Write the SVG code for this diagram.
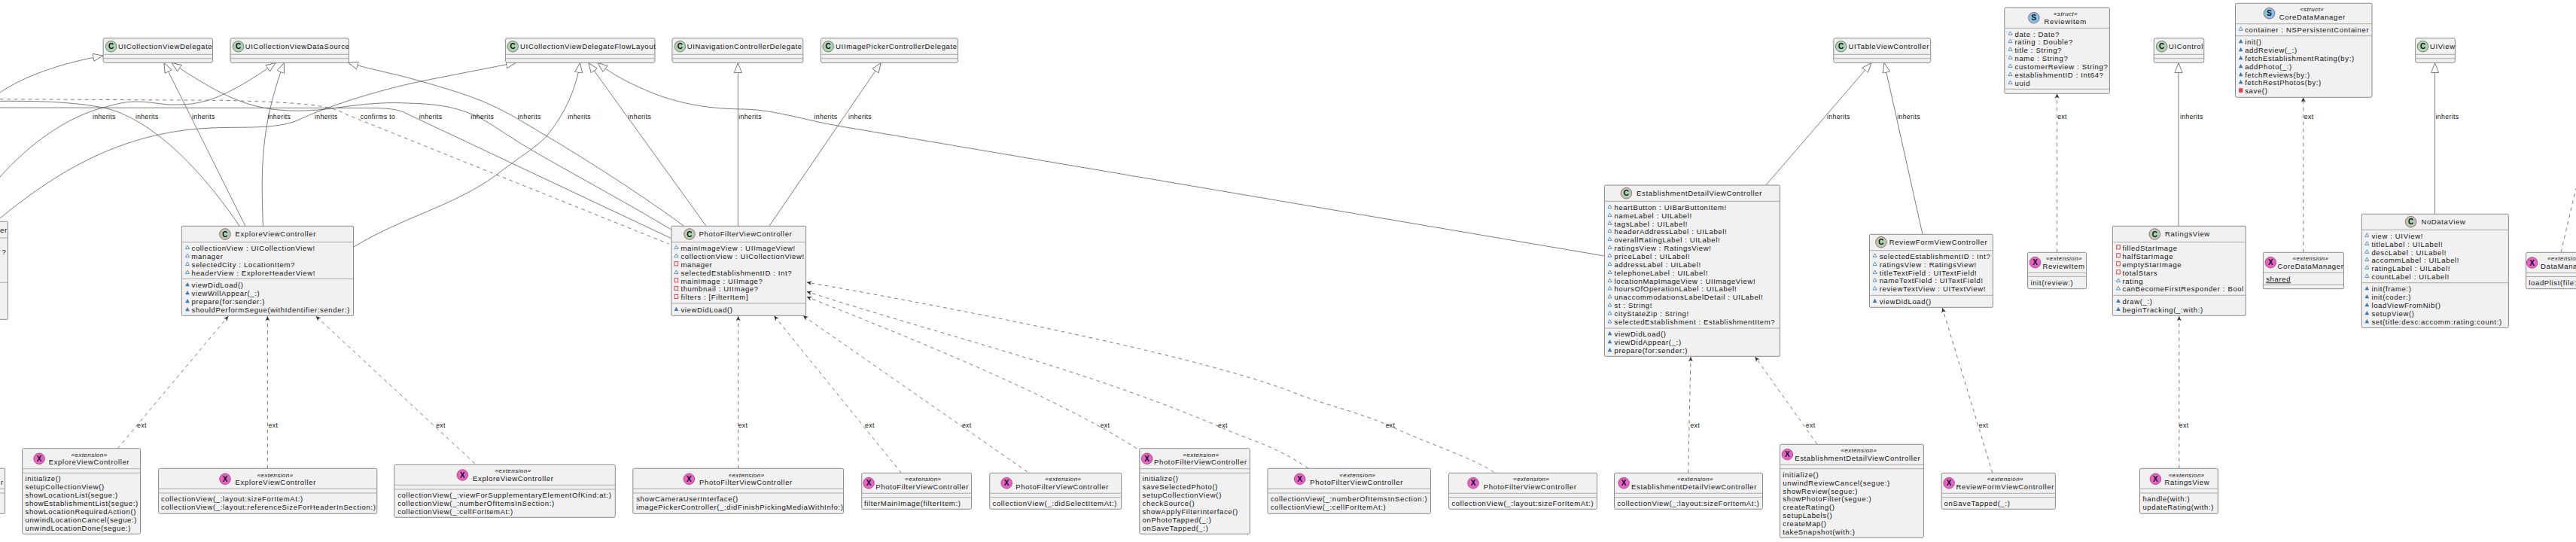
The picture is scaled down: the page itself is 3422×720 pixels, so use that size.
<svg xmlns="http://www.w3.org/2000/svg" width="3422" height="720" viewBox="0 0 3422 720">
<style>
text{font-family:"Liberation Sans",Arial,sans-serif;fill:#111}
.m{font-size:9.5px;letter-spacing:.65px}
.n{font-size:9.5px;letter-spacing:.65px}
.st{font-size:8px;font-style:italic;letter-spacing:.45px;text-anchor:middle}
.lb{font-size:8.7px;letter-spacing:.35px}
.il{font-size:10px;font-weight:bold;text-anchor:middle}
.b{fill:#F1F1F1;stroke:#8a8a8a;stroke-width:1}
.d{stroke:#ababab;stroke-width:1;fill:none}
.ic{stroke-width:.8}
.cs{fill:#ADD1B2;stroke:#5a6a5c}
.cc{fill:#ADD1B2;stroke:#B4385A}
.cx{fill:#E263C9;stroke:#B4385A}
.cu{fill:#7CC8EC;stroke:#B4385A}
.e{fill:none;stroke:#5c5c5c;stroke-width:.8}
.h{marker-end:url(#tri)}
.x{stroke-dasharray:4.7 4.7;marker-end:url(#vee)}
.u{text-decoration:underline}
</style>
<defs>
<marker id="tri" markerUnits="userSpaceOnUse" markerWidth="16" markerHeight="14" refX="13.5" refY="6" orient="auto"><path d="M13.3,6 L.3,1 L.3,11 Z" fill="#fff" stroke="#5c5c5c" stroke-width=".8"/></marker>
<marker id="vee" markerUnits="userSpaceOnUse" markerWidth="9" markerHeight="9" refX="7" refY="4" orient="auto"><path d="M7,4 L.5,1 L2.4,4 L.5,7 Z" fill="#333"/></marker>
<path id="po" d="M0,-2.3 L2.6,2.3 L-2.6,2.3 Z" fill="#F1F1F1" stroke="#4D8AC4" stroke-width=".9"/>
<path id="pf" d="M0,-2.6 L2.9,2.6 L-2.9,2.6 Z" fill="#3F78B5"/>
<rect id="ro" x="-2.3" y="-2.6" width="4.6" height="5.2" fill="#F1F1F1" stroke="#D8353F" stroke-width=".9"/>
<rect id="rf" x="-2.6" y="-2.8" width="5.2" height="5.6" fill="#E2404E"/>
</defs>

<g id="connectors">
<path class="e h" d="M0,123 C30,102 80,84 137,74"/>
<path class="e" d="M0,134.3 C60,134 100,136 137,143 C185,153 250,200 318,300"/>
<path class="e h" d="M0,235 C40,190 90,155 137,143 C155,138 165,135 181,135 C205,135 215,140 236,139 C270,139 300,130 366.4,83.3"/>
<path class="e h" d="M0,290 C85,220 170,175 280,170 C325,168 365,172 395,160 C420,148 480,125 559,108 C600,100 650,90 685.6,83.3"/>
<path class="e h" d="M908.3,300 C840,250 760,200 685.6,156.7 C640,130 600,120 559.5,108 C525,98 495,93 462.4,83.3"/>
<path class="e h" d="M891.8,305 C830,268 750,225 707.6,200 C670,178 650,162 630.8,153.3 C600,140 575,138 540,137 C505,135 470,140 433.3,145 C405,148 380,148 356.5,144.3 C320,138 290,125 227.6,83.3"/>
<path class="e" d="M0,143 L500,143.5 C515,144 525,145 535,148.5 L891.8,316.7"/>
<path class="e" stroke-dasharray="4.7 4.7" d="M0,131.7 L296,133.3 C395,136 440,139 460,152 L888.5,324"/>
<path class="e h" d="M469.5,328.3 C535,288 600,275 658.2,233.3 C690,208 715,195 729.5,176.7 C750,150 765,120 770.6,83.3"/>
<path class="e h" d="M325.8,300 L217.8,83.3"/>
<path class="e h" d="M349.4,300 C347,230 345,170 377.4,83.3"/>
<path class="e h" d="M937.9,300 L781.6,83.3"/>
<path class="e h" d="M2131.4,340 L1117.8,168 C1070,160 1030,146 990,145 C950,145 905,140 860,120.7 C835,110 815,100 793.7,83.3"/>
<path class="e h" d="M980.3,300.3 L980.3,83.3"/>
<path class="e h" d="M1021.8,300.3 L1170.4,83.3"/>
<path class="e h" d="M2345.8,246 L2486.2,83.3"/>
<path class="e h" d="M2554,311.3 L2503,83.3"/>
<path class="e h" d="M2894,300.3 L2894,83.3"/>
<path class="e h" d="M3234.6,284.3 L3234.6,83.3"/>
<path class="e x" d="M156.3,595.7 L303.3,420"/>
<path class="e x" d="M355.4,622.3 L355.4,420"/>
<path class="e x" d="M630.8,615.7 L419.6,420"/>
<path class="e x" d="M980.7,622.3 L980.7,420"/>
<path class="e x" d="M1197.3,628.3 L1028.4,419.5"/>
<path class="e x" d="M1364.6,626.7 L1066.8,419.5"/>
<path class="e x" d="M1510,595.7 C1400,525 1200,445 1071.7,394.3"/>
<path class="e x" d="M1738.1,622.3 C1690,590 1660,585 1619.6,566.7 C1440,490 1250,445 1071.7,387.3"/>
<path class="e x" d="M1984.4,627.3 C1960,610 1900,590 1857,570.7 C1810,548 1765,540 1720,522 C1600,475 1300,415 1071.7,375"/>
<path class="e x" d="M2242.7,628.3 C2244,560 2245,520 2246,474"/>
<path class="e x" d="M2413.8,590 L2331.5,474"/>
<path class="e x" d="M2646.9,628.3 L2580.3,409"/>
<path class="e x" d="M2894.8,622.3 L2894.8,420"/>
<path class="e x" d="M2732.6,335.3 L2732.6,124.3"/>
<path class="e x" d="M3059.7,335.3 L3059.7,129.3"/>
<path class="e" stroke-dasharray="4.7 4.7" d="M3402.1,335 L3422,250"/>
<text class="lb" x="122.9" y="158">inherits</text>
<text class="lb" x="179.9" y="158">inherits</text>
<text class="lb" x="255" y="158">inherits</text>
<text class="lb" x="355.4" y="158">inherits</text>
<text class="lb" x="418" y="158">inherits</text>
<text class="lb" x="478.8" y="158">confirms to</text>
<text class="lb" x="556.7" y="158">inherits</text>
<text class="lb" x="625.3" y="158">inherits</text>
<text class="lb" x="687.8" y="158">inherits</text>
<text class="lb" x="754.2" y="158">inherits</text>
<text class="lb" x="834.3" y="158">inherits</text>
<text class="lb" x="981.2" y="158">inherits</text>
<text class="lb" x="1081.6" y="158">inherits</text>
<text class="lb" x="1127.1" y="158">inherits</text>
<text class="lb" x="2427" y="158">inherits</text>
<text class="lb" x="2520.2" y="158">inherits</text>
<text class="lb" x="2895.9" y="158">inherits</text>
<text class="lb" x="3235.6" y="158">inherits</text>
<text class="lb" x="2733.2" y="158">ext</text>
<text class="lb" x="3060.8" y="158">ext</text>
<text class="lb" x="182" y="568">ext</text>
<text class="lb" x="356.5" y="568">ext</text>
<text class="lb" x="579.2" y="568">ext</text>
<text class="lb" x="980.7" y="568">ext</text>
<text class="lb" x="1149" y="568">ext</text>
<text class="lb" x="1277.9" y="568">ext</text>
<text class="lb" x="1461.7" y="568">ext</text>
<text class="lb" x="1618" y="568">ext</text>
<text class="lb" x="1840.7" y="568">ext</text>
<text class="lb" x="2245.4" y="568">ext</text>
<text class="lb" x="2398.8" y="568">ext</text>
<text class="lb" x="2628.7" y="568">ext</text>
<text class="lb" x="2894.8" y="568">ext</text>
</g>

<g id="UICollectionViewDelegate"><rect class="b" x="137.1" y="50.7" width="145.4" height="32.6" rx="2.5"/><line class="d" x1="137.1" x2="282.5" y1="72.3" y2="72.3"/><line class="d" x1="137.1" x2="282.5" y1="77.7" y2="77.7"/><circle class="ic cs" cx="147.5" cy="61.7" r="7.3"/><text class="il" x="147.5" y="65.2">C</text><text class="n" x="156.9" y="65">UICollectionViewDelegate</text></g>
<g id="UICollectionViewDataSource"><rect class="b" x="306" y="50.7" width="157.5" height="32.6" rx="2.5"/><line class="d" x1="306" x2="463.5" y1="72.3" y2="72.3"/><line class="d" x1="306" x2="463.5" y1="77.7" y2="77.7"/><circle class="ic cs" cx="316.5" cy="61.7" r="7.3"/><text class="il" x="316.5" y="65.2">C</text><text class="n" x="325.8" y="65">UICollectionViewDataSource</text></g>
<g id="UICollectionViewDelegateFlowLayout"><rect class="b" x="671.4" y="50.7" width="198.5" height="32.6" rx="2.5"/><line class="d" x1="671.4" x2="869.9" y1="72.3" y2="72.3"/><line class="d" x1="671.4" x2="869.9" y1="77.7" y2="77.7"/><circle class="ic cs" cx="681.2" cy="61.7" r="7.3"/><text class="il" x="681.2" y="65.2">C</text><text class="n" x="691.1" y="65">UICollectionViewDelegateFlowLayout</text></g>
<g id="UINavigationControllerDelegate"><rect class="b" x="892.9" y="50.7" width="173.9" height="32.6" rx="2.5"/><line class="d" x1="892.9" x2="1066.8" y1="72.3" y2="72.3"/><line class="d" x1="892.9" x2="1066.8" y1="77.7" y2="77.7"/><circle class="ic cs" cx="903.3" cy="61.7" r="7.3"/><text class="il" x="903.3" y="65.2">C</text><text class="n" x="912.7" y="65">UINavigationControllerDelegate</text></g>
<g id="UIImagePickerControllerDelegate"><rect class="b" x="1090.4" y="50.7" width="182.1" height="32.6" rx="2.5"/><line class="d" x1="1090.4" x2="1272.5" y1="72.3" y2="72.3"/><line class="d" x1="1090.4" x2="1272.5" y1="77.7" y2="77.7"/><circle class="ic cs" cx="1100.2" cy="61.7" r="7.3"/><text class="il" x="1100.2" y="65.2">C</text><text class="n" x="1110.1" y="65">UIImagePickerControllerDelegate</text></g>
<g id="UITableViewController"><rect class="b" x="2435.8" y="50.7" width="128.9" height="32.6" rx="2.5"/><line class="d" x1="2435.8" x2="2564.7" y1="72.3" y2="72.3"/><line class="d" x1="2435.8" x2="2564.7" y1="77.7" y2="77.7"/><circle class="ic cs" cx="2445.6" cy="61.7" r="7.3"/><text class="il" x="2445.6" y="65.2">C</text><text class="n" x="2455.5" y="65">UITableViewController</text></g>
<g id="UIControl"><rect class="b" x="2861.2" y="50.7" width="66.6" height="32.6" rx="2.5"/><line class="d" x1="2861.2" x2="2927.8" y1="72.3" y2="72.3"/><line class="d" x1="2861.2" x2="2927.8" y1="77.7" y2="77.7"/><circle class="ic cs" cx="2871.7" cy="61.7" r="7.3"/><text class="il" x="2871.7" y="65.2">C</text><text class="n" x="2881" y="65">UIControl</text></g>
<g id="UIView"><rect class="b" x="3208.7" y="50.7" width="52.7" height="32.6" rx="2.5"/><line class="d" x1="3208.7" x2="3261.4" y1="72.3" y2="72.3"/><line class="d" x1="3208.7" x2="3261.4" y1="77.7" y2="77.7"/><circle class="ic cs" cx="3218.5" cy="61.7" r="7.3"/><text class="il" x="3218.5" y="65.2">C</text><text class="n" x="3227.9" y="65">UIView</text></g>

<g id="PartialClassLeft"><rect class="b" x="-10" y="294.3" width="20.5" height="130" rx="1.5"/><line class="d" x1="0" x2="10.5" y1="316" y2="316"/><line class="d" x1="0" x2="10.5" y1="375.3" y2="375.3"/><text class="n" x="0" y="309.3">er</text><text class="m" x="2.5" y="337.6">?</text></g>
<g id="PartialExtensionLeft"><rect class="b" x="-10" y="622.3" width="16.6" height="60" rx="1.5"/><line class="d" x1="0" x2="6.6" y1="649.3" y2="649.3"/><line class="d" x1="0" x2="6.6" y1="655" y2="655"/><text class="n" x="1" y="644">r</text></g>

<g id="ExploreViewController"><rect class="b" x="241.3" y="300.3" width="228.2" height="119" rx="1.5"/><line class="d" x1="241.3" x2="469.5" y1="321.7" y2="321.7"/><line class="d" x1="241.3" x2="469.5" y1="370.3" y2="370.3"/><circle class="ic cc" cx="298.9" cy="311" r="7.3"/><text class="il" x="298.9" y="314.5">C</text><text class="n" x="312.6" y="314.3">ExploreViewController</text>
<use href="#po" x="249" y="328.3"/><text class="m" x="254.5" y="333.3">collectionView : UICollectionView!</text>
<use href="#po" x="249" y="339.3"/><text class="m" x="254.5" y="344.3">manager</text>
<use href="#po" x="249" y="350.3"/><text class="m" x="254.5" y="355.3">selectedCity : LocationItem?</text>
<use href="#po" x="249" y="361.3"/><text class="m" x="254.5" y="366.3">headerView : ExploreHeaderView!</text>
<use href="#pf" x="249" y="377.7"/><text class="m" x="254.5" y="382.3">viewDidLoad()</text>
<use href="#pf" x="249" y="388.7"/><text class="m" x="254.5" y="393.3">viewWillAppear(_:)</text>
<use href="#pf" x="249" y="399.7"/><text class="m" x="254.5" y="404.3">prepare(for:sender:)</text>
<use href="#pf" x="249" y="410.7"/><text class="m" x="254.5" y="415.3">shouldPerformSegue(withIdentifier:sender:)</text></g>

<g id="PhotoFilterViewController"><rect class="b" x="891.8" y="300.3" width="178.8" height="119" rx="1.5"/><line class="d" x1="891.8" x2="1070.6" y1="321.7" y2="321.7"/><line class="d" x1="891.8" x2="1070.6" y1="403" y2="403"/><circle class="ic cc" cx="915.9" cy="311" r="7.3"/><text class="il" x="915.9" y="314.5">C</text><text class="n" x="928.6" y="314.3">PhotoFilterViewController</text>
<use href="#po" x="898.4" y="328.3"/><text class="m" x="904.4" y="333.3">mainImageView : UIImageView!</text>
<use href="#po" x="898.4" y="339.3"/><text class="m" x="904.4" y="344">collectionView : UICollectionView!</text>
<use href="#ro" x="898.4" y="350.3"/><text class="m" x="904.4" y="355.3">manager</text>
<use href="#po" x="898.4" y="361.3"/><text class="m" x="904.4" y="366.3">selectedEstablishmentID : Int?</text>
<use href="#ro" x="898.4" y="372.3"/><text class="m" x="904.4" y="377.3">mainImage : UIImage?</text>
<use href="#ro" x="898.4" y="383"/><text class="m" x="904.4" y="387.3">thumbnail : UIImage?</text>
<use href="#ro" x="898.4" y="394"/><text class="m" x="904.4" y="398.3">filters : [FilterItem]</text>
<use href="#pf" x="898.4" y="410.3"/><text class="m" x="904.4" y="415">viewDidLoad()</text></g>

<g id="EstablishmentDetailViewController"><rect class="b" x="2131.4" y="246" width="233.1" height="227.3" rx="1.5"/><line class="d" x1="2131.4" x2="2364.5" y1="267.3" y2="267.3"/><line class="d" x1="2131.4" x2="2364.5" y1="436" y2="436"/><circle class="ic cc" cx="2160.4" cy="256.7" r="7.3"/><text class="il" x="2160.4" y="260.2">C</text><text class="n" x="2174.1" y="260">EstablishmentDetailViewController</text>
<use href="#po" x="2138.5" y="274.3"/><text class="m" x="2144.5" y="279.3">heartButton : UIBarButtonItem!</text>
<use href="#po" x="2138.5" y="285.3"/><text class="m" x="2144.5" y="290.3">nameLabel : UILabel!</text>
<use href="#po" x="2138.5" y="296"/><text class="m" x="2144.5" y="301">tagsLabel : UILabel!</text>
<use href="#po" x="2138.5" y="306.3"/><text class="m" x="2144.5" y="311.3">headerAddressLabel : UILabel!</text>
<use href="#po" x="2138.5" y="317.3"/><text class="m" x="2144.5" y="322.3">overallRatingLabel : UILabel!</text>
<use href="#po" x="2138.5" y="328.3"/><text class="m" x="2144.5" y="333.3">ratingsView : RatingsView!</text>
<use href="#po" x="2138.5" y="339"/><text class="m" x="2144.5" y="344">priceLabel : UILabel!</text>
<use href="#po" x="2138.5" y="350.3"/><text class="m" x="2144.5" y="355.3">addressLabel : UILabel!</text>
<use href="#po" x="2138.5" y="361.3"/><text class="m" x="2144.5" y="366.3">telephoneLabel : UILabel!</text>
<use href="#po" x="2138.5" y="372.3"/><text class="m" x="2144.5" y="377.3">locationMapImageView : UIImageView!</text>
<use href="#po" x="2138.5" y="382.7"/><text class="m" x="2144.5" y="387.3">hoursOfOperationLabel : UILabel!</text>
<use href="#po" x="2138.5" y="393.7"/><text class="m" x="2144.5" y="398.3">unaccommodationsLabelDetail : UILabel!</text>
<use href="#po" x="2138.5" y="404.7"/><text class="m" x="2144.5" y="409.3">st : String!</text>
<use href="#po" x="2138.5" y="415.7"/><text class="m" x="2144.5" y="420.3">cityStateZip : String!</text>
<use href="#po" x="2138.5" y="426.7"/><text class="m" x="2144.5" y="431.3">selectedEstablishment : EstablishmentItem?</text>
<use href="#pf" x="2138.5" y="442.7"/><text class="m" x="2144.5" y="447.3">viewDidLoad()</text>
<use href="#pf" x="2138.5" y="453.7"/><text class="m" x="2144.5" y="458.3">viewDidAppear(_:)</text>
<use href="#pf" x="2138.5" y="464.7"/><text class="m" x="2144.5" y="469.3">prepare(for:sender:)</text></g>

<g id="ReviewFormViewController"><rect class="b" x="2483.5" y="311.3" width="163.9" height="97" rx="1.5"/><line class="d" x1="2483.5" x2="2647.4" y1="332.7" y2="332.7"/><line class="d" x1="2483.5" x2="2647.4" y1="392.3" y2="392.3"/><circle class="ic cc" cx="2498.9" cy="321.7" r="7.3"/><text class="il" x="2498.9" y="325.2">C</text><text class="n" x="2509.8" y="325">ReviewFormViewController</text>
<use href="#po" x="2490.6" y="339"/><text class="m" x="2496.7" y="344">selectedEstablishmentID : Int?</text>
<use href="#po" x="2490.6" y="350.3"/><text class="m" x="2496.7" y="355.3">ratingsView : RatingsView!</text>
<use href="#po" x="2490.6" y="361.3"/><text class="m" x="2496.7" y="366.3">titleTextField : UITextField!</text>
<use href="#po" x="2490.6" y="371.7"/><text class="m" x="2496.7" y="376.3">nameTextField : UITextField!</text>
<use href="#po" x="2490.6" y="382.7"/><text class="m" x="2496.7" y="387.3">reviewTextView : UITextView!</text>
<use href="#pf" x="2490.6" y="399.3"/><text class="m" x="2496.7" y="404">viewDidLoad()</text></g>

<g id="ReviewItem"><rect class="b" x="2662.8" y="10" width="139.6" height="114.3" rx="2"/><line class="d" x1="2662.8" x2="2802.4" y1="37.3" y2="37.3"/><line class="d" x1="2662.8" x2="2802.4" y1="118.3" y2="118.3"/><circle class="ic cu" cx="2701.8" cy="23.7" r="7.3"/><text class="il" x="2701.8" y="27.2">S</text><text class="st" x="2744.1" y="21">«struct»</text><text class="n" x="2715.6" y="32.3">ReviewItem</text>
<use href="#po" x="2670.5" y="44"/><text class="m" x="2676.5" y="49">date : Date?</text>
<use href="#po" x="2670.5" y="54.3"/><text class="m" x="2676.5" y="59.3">rating : Double?</text>
<use href="#po" x="2670.5" y="65"/><text class="m" x="2676.5" y="70">title : String?</text>
<use href="#po" x="2670.5" y="76"/><text class="m" x="2676.5" y="81">name : String?</text>
<use href="#po" x="2670.5" y="87.3"/><text class="m" x="2676.5" y="92.3">customerReview : String?</text>
<use href="#po" x="2670.5" y="98.3"/><text class="m" x="2676.5" y="103.3">establishmentID : Int64?</text>
<use href="#po" x="2670.5" y="109.3"/><text class="m" x="2676.5" y="114.3">uuid</text></g>

<g id="CoreDataManager"><rect class="b" x="2969.5" y="4.3" width="181.5" height="125" rx="2"/><line class="d" x1="2969.5" x2="3151" y1="31.7" y2="31.7"/><line class="d" x1="2969.5" x2="3151" y1="47.7" y2="47.7"/><circle class="ic cu" cx="3014.6" cy="17.7" r="7.3"/><text class="il" x="3014.6" y="21.2">S</text><text class="st" x="3071.2" y="15">«struct»</text><text class="n" x="3027.8" y="26">CoreDataManager</text>
<use href="#po" x="2976.7" y="38"/><text class="m" x="2982.2" y="43">container : NSPersistentContainer</text>
<use href="#pf" x="2976.7" y="54.7"/><text class="m" x="2982.2" y="59.3">init()</text>
<use href="#pf" x="2976.7" y="65.7"/><text class="m" x="2982.2" y="70.3">addReview(_:)</text>
<use href="#pf" x="2976.7" y="76.7"/><text class="m" x="2982.2" y="81.3">fetchEstablishmentRating(by:)</text>
<use href="#pf" x="2976.7" y="87.7"/><text class="m" x="2982.2" y="92.3">addPhoto(_:)</text>
<use href="#pf" x="2976.7" y="98.7"/><text class="m" x="2982.2" y="103.3">fetchReviews(by:)</text>
<use href="#pf" x="2976.7" y="108.7"/><text class="m" x="2982.2" y="113.3">fetchRestPhotos(by:)</text>
<use href="#rf" x="2976.7" y="120"/><text class="m" x="2982.2" y="124.3">save()</text></g>

<g id="RatingsView"><rect class="b" x="2806.3" y="300.3" width="177" height="119" rx="1.5"/><line class="d" x1="2806.3" x2="2983.3" y1="321.7" y2="321.7"/><line class="d" x1="2806.3" x2="2983.3" y1="392.3" y2="392.3"/><circle class="ic cc" cx="2862.3" cy="311" r="7.3"/><text class="il" x="2862.3" y="314.5">C</text><text class="n" x="2876.1" y="314.3">RatingsView</text>
<use href="#ro" x="2814" y="328.3"/><text class="m" x="2819.5" y="333.3">filledStarImage</text>
<use href="#ro" x="2814" y="339.3"/><text class="m" x="2819.5" y="344.3">halfStarImage</text>
<use href="#ro" x="2814" y="350.3"/><text class="m" x="2819.5" y="355.3">emptyStarImage</text>
<use href="#ro" x="2814" y="361.3"/><text class="m" x="2819.5" y="366.3">totalStars</text>
<use href="#po" x="2814" y="372.3"/><text class="m" x="2819.5" y="377.3">rating</text>
<use href="#po" x="2814" y="382.7"/><text class="m" x="2819.5" y="387.3">canBecomeFirstResponder : Bool</text>
<use href="#pf" x="2814" y="399.3"/><text class="m" x="2819.5" y="404">draw(_:)</text>
<use href="#pf" x="2814" y="410.3"/><text class="m" x="2819.5" y="415">beginTracking(_:with:)</text></g>

<g id="NoDataView"><rect class="b" x="3137.2" y="284.3" width="195.1" height="151" rx="1.5"/><line class="d" x1="3137.2" x2="3332.3" y1="305.3" y2="305.3"/><line class="d" x1="3137.2" x2="3332.3" y1="375.7" y2="375.7"/><circle class="ic cc" cx="3202.6" cy="294.7" r="7.3"/><text class="il" x="3202.6" y="298.2">C</text><text class="n" x="3216.4" y="298">NoDataView</text>
<use href="#po" x="3144.3" y="312"/><text class="m" x="3150.4" y="317">view : UIView!</text>
<use href="#po" x="3144.3" y="323"/><text class="m" x="3150.4" y="328">titleLabel : UILabel!</text>
<use href="#po" x="3144.3" y="334"/><text class="m" x="3150.4" y="339">descLabel : UILabel!</text>
<use href="#po" x="3144.3" y="344.3"/><text class="m" x="3150.4" y="349.3">accommLabel : UILabel!</text>
<use href="#po" x="3144.3" y="355"/><text class="m" x="3150.4" y="360">ratingLabel : UILabel!</text>
<use href="#po" x="3144.3" y="366.3"/><text class="m" x="3150.4" y="371.3">countLabel : UILabel!</text>
<use href="#pf" x="3144.3" y="382.7"/><text class="m" x="3150.4" y="387.3">init(frame:)</text>
<use href="#pf" x="3144.3" y="393.7"/><text class="m" x="3150.4" y="398.3">init(coder:)</text>
<use href="#pf" x="3144.3" y="404.7"/><text class="m" x="3150.4" y="409.3">loadViewFromNib()</text>
<use href="#pf" x="3144.3" y="415.7"/><text class="m" x="3150.4" y="420.3">setupView()</text>
<use href="#pf" x="3144.3" y="426.7"/><text class="m" x="3150.4" y="431.3">set(title:desc:accomm:rating:count:)</text></g>

<g id="ExploreExt1"><rect class="b" x="29.6" y="595.7" width="156.9" height="113.6" rx="2"/><line class="d" x1="29.6" x2="186.5" y1="622.7" y2="622.7"/><line class="d" x1="29.6" x2="186.5" y1="628.3" y2="628.3"/><circle class="ic cx" cx="52.1" cy="609.3" r="7.3"/><text class="il" x="52.1" y="612.8">X</text><text class="st" x="118.5" y="607">«extension»</text><text class="n" x="64.7" y="617.3">ExploreViewController</text>
<text class="m" x="33.5" y="639.3">initialize()</text><text class="m" x="33.5" y="650.3">setupCollectionView()</text><text class="m" x="33.5" y="661.3">showLocationList(segue:)</text><text class="m" x="33.5" y="672.3">showEstablishmentList(segue:)</text><text class="m" x="33.5" y="683.3">showLocationRequiredAction()</text><text class="m" x="33.5" y="694.3">unwindLocationCancel(segue:)</text><text class="m" x="33.5" y="705.3">unwindLocationDone(segue:)</text></g>

<g id="ExploreExt2"><rect class="b" x="210.6" y="622.3" width="290.2" height="60" rx="2"/><line class="d" x1="210.6" x2="500.8" y1="649.3" y2="649.3"/><line class="d" x1="210.6" x2="500.8" y1="655" y2="655"/><circle class="ic cx" cx="299" cy="636.3" r="7.3"/><text class="il" x="299" y="639.8">X</text><text class="st" x="365.5" y="634">«extension»</text><text class="n" x="312.6" y="644">ExploreViewController</text>
<text class="m" x="213.9" y="666">collectionView(_:layout:sizeForItemAt:)</text><text class="m" x="213.9" y="677">collectionView(_:layout:referenceSizeForHeaderInSection:)</text></g>

<g id="ExploreExt3"><rect class="b" x="523.8" y="617.3" width="293.5" height="70" rx="2"/><line class="d" x1="523.8" x2="817.3" y1="644.3" y2="644.3"/><line class="d" x1="523.8" x2="817.3" y1="650" y2="650"/><circle class="ic cx" cx="614.3" cy="631" r="7.3"/><text class="il" x="614.3" y="634.5">X</text><text class="st" x="681.5" y="628">«extension»</text><text class="n" x="628" y="639">ExploreViewController</text>
<text class="m" x="528.2" y="661">collectionView(_:viewForSupplementaryElementOfKind:at:)</text><text class="m" x="528.2" y="672">collectionView(_:numberOfItemsInSection:)</text><text class="m" x="528.2" y="683">collectionView(_:cellForItemAt:)</text></g>

<g id="PhotoExt1"><rect class="b" x="840.8" y="622.3" width="279.7" height="60" rx="2"/><line class="d" x1="840.8" x2="1120.5" y1="649.3" y2="649.3"/><line class="d" x1="840.8" x2="1120.5" y1="655" y2="655"/><circle class="ic cx" cx="915.4" cy="636.3" r="7.3"/><text class="il" x="915.4" y="639.8">X</text><text class="st" x="991.6" y="634">«extension»</text><text class="n" x="929.1" y="644">PhotoFilterViewController</text>
<text class="m" x="845.2" y="666">showCameraUserInterface()</text><text class="m" x="845.2" y="677">imagePickerController(_:didFinishPickingMediaWithInfo:)</text></g>

<g id="PhotoExt2"><rect class="b" x="1144.7" y="628.3" width="145.9" height="48" rx="2"/><line class="d" x1="1144.7" x2="1290.6" y1="655.3" y2="655.3"/><line class="d" x1="1144.7" x2="1290.6" y1="660.7" y2="660.7"/><circle class="ic cx" cx="1154" cy="641.7" r="7.3"/><text class="il" x="1154" y="645.2">X</text><text class="st" x="1226.4" y="639">«extension»</text><text class="n" x="1163.3" y="650">PhotoFilterViewController</text>
<text class="m" x="1148" y="672">filterMainImage(filterItem:)</text></g>

<g id="PhotoExt3"><rect class="b" x="1314.7" y="628.3" width="175" height="48" rx="2"/><line class="d" x1="1314.7" x2="1489.7" y1="655.3" y2="655.3"/><line class="d" x1="1314.7" x2="1489.7" y1="660.7" y2="660.7"/><circle class="ic cx" cx="1337.2" cy="641.7" r="7.3"/><text class="il" x="1337.2" y="645.2">X</text><text class="st" x="1412.4" y="639">«extension»</text><text class="n" x="1349.3" y="650">PhotoFilterViewController</text>
<text class="m" x="1318.5" y="672">collectionView(_:didSelectItemAt:)</text></g>

<g id="PhotoExt4"><rect class="b" x="1513.8" y="595.7" width="146.5" height="113.6" rx="2"/><line class="d" x1="1513.8" x2="1660.3" y1="622.7" y2="622.7"/><line class="d" x1="1513.8" x2="1660.3" y1="628.3" y2="628.3"/><circle class="ic cx" cx="1523.7" cy="609.3" r="7.3"/><text class="il" x="1523.7" y="612.8">X</text><text class="st" x="1595.5" y="607">«extension»</text><text class="n" x="1533" y="617.3">PhotoFilterViewController</text>
<text class="m" x="1517.6" y="639.3">initialize()</text><text class="m" x="1517.6" y="650.3">saveSelectedPhoto()</text><text class="m" x="1517.6" y="661.3">setupCollectionView()</text><text class="m" x="1517.6" y="672.3">checkSource()</text><text class="m" x="1517.6" y="683.3">showApplyFilterInterface()</text><text class="m" x="1517.6" y="694.3">onPhotoTapped(_:)</text><text class="m" x="1517.6" y="705.3">onSaveTapped(_:)</text></g>

<g id="PhotoExt5"><rect class="b" x="1683.9" y="622.3" width="216.6" height="60" rx="2"/><line class="d" x1="1683.9" x2="1900.5" y1="649.3" y2="649.3"/><line class="d" x1="1683.9" x2="1900.5" y1="655" y2="655"/><circle class="ic cx" cx="1726.6" cy="636.3" r="7.3"/><text class="il" x="1726.6" y="639.8">X</text><text class="st" x="1803.4" y="634">«extension»</text><text class="n" x="1740.3" y="644">PhotoFilterViewController</text>
<text class="m" x="1687.7" y="666">collectionView(_:numberOfItemsInSection:)</text><text class="m" x="1687.7" y="677">collectionView(_:cellForItemAt:)</text></g>

<g id="PhotoExt6"><rect class="b" x="1924.6" y="628.3" width="196.9" height="48" rx="2"/><line class="d" x1="1924.6" x2="2121.5" y1="655.3" y2="655.3"/><line class="d" x1="1924.6" x2="2121.5" y1="660.7" y2="660.7"/><circle class="ic cx" cx="1957" cy="641.7" r="7.3"/><text class="il" x="1957" y="645.2">X</text><text class="st" x="2034.3" y="639">«extension»</text><text class="n" x="1970.7" y="650">PhotoFilterViewController</text>
<text class="m" x="1928.4" y="672">collectionView(_:layout:sizeForItemAt:)</text></g>

<g id="EstablishmentExt1"><rect class="b" x="2144.5" y="628.3" width="197" height="48" rx="2"/><line class="d" x1="2144.5" x2="2341.5" y1="655.3" y2="655.3"/><line class="d" x1="2144.5" x2="2341.5" y1="660.7" y2="660.7"/><circle class="ic cx" cx="2157.1" cy="641.7" r="7.3"/><text class="il" x="2157.1" y="645.2">X</text><text class="st" x="2252" y="639">«extension»</text><text class="n" x="2167" y="650">EstablishmentDetailViewController</text>
<text class="m" x="2148.4" y="672">collectionView(_:layout:sizeForItemAt:)</text></g>

<g id="EstablishmentExt2"><rect class="b" x="2364.5" y="590.3" width="190.9" height="124" rx="2"/><line class="d" x1="2364.5" x2="2555.4" y1="617.3" y2="617.3"/><line class="d" x1="2364.5" x2="2555.4" y1="622.7" y2="622.7"/><circle class="ic cx" cx="2374.4" cy="603.7" r="7.3"/><text class="il" x="2374.4" y="607.2">X</text><text class="st" x="2469.3" y="601">«extension»</text><text class="n" x="2384.2" y="612">EstablishmentDetailViewController</text>
<text class="m" x="2368.3" y="634">initialize()</text><text class="m" x="2368.3" y="645">unwindReviewCancel(segue:)</text><text class="m" x="2368.3" y="656">showReview(segue:)</text><text class="m" x="2368.3" y="666.3">showPhotoFilter(segue:)</text><text class="m" x="2368.3" y="677.3">createRating()</text><text class="m" x="2368.3" y="688.3">setupLabels()</text><text class="m" x="2368.3" y="699.3">createMap()</text><text class="m" x="2368.3" y="710.3">takeSnapshot(with:)</text></g>

<g id="ReviewFormExt"><rect class="b" x="2579.2" y="628.3" width="151.2" height="48" rx="2"/><line class="d" x1="2579.2" x2="2730.4" y1="655.3" y2="655.3"/><line class="d" x1="2579.2" x2="2730.4" y1="660.7" y2="660.7"/><circle class="ic cx" cx="2589.1" cy="641.7" r="7.3"/><text class="il" x="2589.1" y="645.2">X</text><text class="st" x="2663.9" y="639">«extension»</text><text class="n" x="2598.5" y="650">ReviewFormViewController</text>
<text class="m" x="2582.5" y="672">onSaveTapped(_:)</text></g>

<g id="RatingsViewExt"><rect class="b" x="2842.5" y="622.3" width="103.9" height="60" rx="2"/><line class="d" x1="2842.5" x2="2946.4" y1="649.3" y2="649.3"/><line class="d" x1="2842.5" x2="2946.4" y1="655" y2="655"/><circle class="ic cx" cx="2863.4" cy="636.3" r="7.3"/><text class="il" x="2863.4" y="639.8">X</text><text class="st" x="2904.7" y="634">«extension»</text><text class="n" x="2875.5" y="644">RatingsView</text>
<text class="m" x="2846.4" y="666">handle(with:)</text><text class="m" x="2846.4" y="677">updateRating(with:)</text></g>

<g id="ReviewItemExt"><rect class="b" x="2693.6" y="335.3" width="78" height="48.4" rx="2"/><line class="d" x1="2693.6" x2="2771.6" y1="362.3" y2="362.3"/><line class="d" x1="2693.6" x2="2771.6" y1="367.3" y2="367.3"/><circle class="ic cx" cx="2703.5" cy="348.7" r="7.3"/><text class="il" x="2703.5" y="352.2">X</text><text class="st" x="2742" y="346">«extension»</text><text class="n" x="2713.4" y="356.6">ReviewItem</text>
<text class="m" x="2697.4" y="379">init(review:)</text></g>

<g id="CoreDataManagerExt"><rect class="b" x="3006.4" y="335.3" width="107.1" height="48.4" rx="2"/><line class="d" x1="3006.4" x2="3113.5" y1="362.3" y2="362.3"/><line class="d" x1="3006.4" x2="3113.5" y1="378.3" y2="378.3"/><circle class="ic cx" cx="3016.3" cy="348.7" r="7.3"/><text class="il" x="3016.3" y="352.2">X</text><text class="st" x="3069.6" y="346">«extension»</text><text class="n" x="3025.6" y="356.6">CoreDataManager</text>
<text class="m u" x="3010.2" y="374.3">shared</text></g>

<g id="DataManagerExt"><rect class="b" x="3355.6" y="335.3" width="80" height="48.4" rx="2"/><line class="d" x1="3355.6" x2="3422" y1="362.3" y2="362.3"/><line class="d" x1="3355.6" x2="3422" y1="367.5" y2="367.5"/><circle class="ic cx" cx="3363.7" cy="349" r="7.3"/><text class="il" x="3363.7" y="352.5">X</text><text class="st" x="3408" y="346">«extension»</text><text class="n" x="3375" y="356.6">DataManager</text>
<text class="m" x="3359.3" y="379">loadPlist(file:)</text></g>
</svg>
